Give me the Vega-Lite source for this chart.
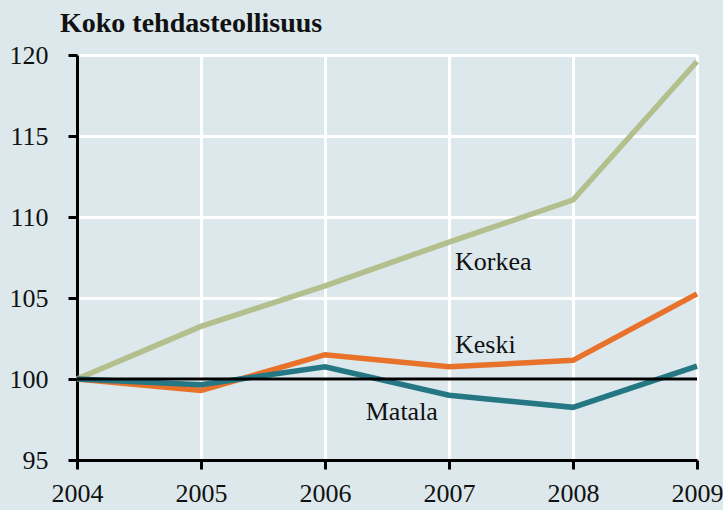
{
  "$schema": "https://vega.github.io/schema/vega-lite/v6.json",
  "width": 620,
  "height": 405,
  "autosize": "none",
  "padding": {"left": 77, "top": 55, "right": 26, "bottom": 50},
  "background": "#dce8eb",
  "title": {
    "text": "Koko tehdasteollisuus",
    "anchor": "start",
    "frame": "group",
    "dx": -17,
    "offset": 4,
    "font": "Liberation Serif",
    "fontSize": 28,
    "fontWeight": "bold",
    "color": "#111111"
  },
  "config": {
    "view": {"stroke": null},
    "axis": {
      "labelFont": "Liberation Serif",
      "labelFontSize": 26,
      "labelColor": "#111111",
      "domainColor": "#000000",
      "domainWidth": 3,
      "tickColor": "#000000",
      "tickWidth": 3,
      "tickSize": 9,
      "gridColor": "#ffffff",
      "gridWidth": 3,
      "gridOpacity": 1,
      "title": null
    }
  },
  "datasets": {
    "series": [
      {"year": 2004, "value": 100, "series": "Korkea"},
      {"year": 2005, "value": 103.25, "series": "Korkea"},
      {"year": 2006, "value": 105.75, "series": "Korkea"},
      {"year": 2007, "value": 108.45, "series": "Korkea"},
      {"year": 2008, "value": 111.05, "series": "Korkea"},
      {"year": 2009, "value": 119.6, "series": "Korkea"},
      {"year": 2004, "value": 100, "series": "Keski"},
      {"year": 2005, "value": 99.3, "series": "Keski"},
      {"year": 2006, "value": 101.5, "series": "Keski"},
      {"year": 2007, "value": 100.75, "series": "Keski"},
      {"year": 2008, "value": 101.15, "series": "Keski"},
      {"year": 2009, "value": 105.25, "series": "Keski"},
      {"year": 2004, "value": 100, "series": "Matala"},
      {"year": 2005, "value": 99.65, "series": "Matala"},
      {"year": 2006, "value": 100.75, "series": "Matala"},
      {"year": 2007, "value": 99.0, "series": "Matala"},
      {"year": 2008, "value": 98.25, "series": "Matala"},
      {"year": 2009, "value": 100.8, "series": "Matala"}
    ],
    "labels": [
      {"year": 2007, "value": 107.2, "label": "Korkea"},
      {"year": 2007, "value": 102.1, "label": "Keski"},
      {"year": 2006.28, "value": 97.95, "label": "Matala"}
    ],
    "ref": [{"value": 100}]
  },
  "encoding": {
    "x": {
      "field": "year",
      "type": "quantitative",
      "scale": {"domain": [2004, 2009], "nice": false, "zero": false},
      "axis": {
        "values": [2004, 2005, 2006, 2007, 2008, 2009],
        "format": "d",
        "labelPadding": 11,
        "labelFlush": false,
        "labelOverlap": false,
        "grid": true
      }
    },
    "y": {
      "field": "value",
      "type": "quantitative",
      "scale": {"domain": [95, 120], "nice": false, "zero": false},
      "axis": {
        "values": [95, 100, 105, 110, 115, 120],
        "labelPadding": 20,
        "labelFlush": false,
        "grid": true
      }
    }
  },
  "layer": [
    {
      "data": {"name": "series"},
      "mark": {"type": "line", "strokeWidth": 5.5, "strokeJoin": "miter"},
      "encoding": {
        "color": {
          "field": "series",
          "type": "nominal",
          "scale": {"domain": ["Korkea", "Keski", "Matala"], "range": ["#b3bf8c", "#e8722a", "#267784"]},
          "legend": null
        },
        "order": {"field": "year"}
      }
    },
    {
      "data": {"name": "ref"},
      "mark": {"type": "rule", "color": "#000000", "strokeWidth": 3},
      "encoding": {"y": {"field": "value", "type": "quantitative"}, "x": null}
    },
    {
      "data": {"name": "labels"},
      "mark": {"type": "text", "align": "left", "baseline": "middle", "dx": 6, "font": "Liberation Serif", "fontSize": 26, "color": "#111111"},
      "encoding": {"text": {"field": "label"}}
    }
  ]
}
